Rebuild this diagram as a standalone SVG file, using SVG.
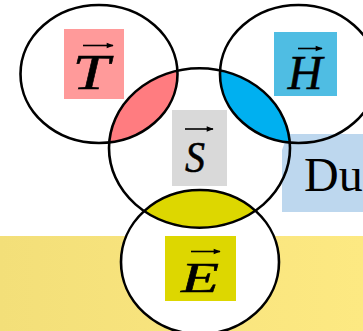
<svg xmlns="http://www.w3.org/2000/svg" width="363" height="331" viewBox="0 0 363 331">
<style>
.ring{fill:none;stroke:#000;stroke-width:2.6}
.lbl{font-family:"Liberation Serif","Times New Roman",serif;font-style:italic;fill:#000;stroke:#000;stroke-width:0.5;text-anchor:middle}
.vec{stroke:#000;stroke-width:1.6;fill:none}
</style>
<defs>
<linearGradient id="band" x1="0" y1="0" x2="1" y2="0">
<stop offset="0" stop-color="#f3df79"/>
<stop offset="1" stop-color="#fde982"/>
</linearGradient>
<marker id="ah" viewBox="0 0 10 10" refX="9" refY="5" markerWidth="5" markerHeight="4.4" orient="auto" markerUnits="strokeWidth">
<path d="M0,1 L10,5 L0,9 Z" fill="#000"/>
</marker>
<clipPath id="clipS"><ellipse cx="199.5" cy="148" rx="90.5" ry="79.7"/></clipPath>
</defs>
<rect x="0" y="236" width="363" height="95" fill="url(#band)"/>
<g id="node-E-circle"><ellipse cx="200" cy="262" rx="79" ry="72" fill="#fff"/></g>
<g id="node-Du">
<polygon points="288,134 363,134 363,212 282,212 282,150" fill="#bdd7ee"/>
<text x="304" y="190.5" font-family="'Liberation Serif','Times New Roman',serif" font-size="48" fill="#000">Du</text>
</g>
<g id="lenses" clip-path="url(#clipS)">
<ellipse cx="99" cy="74" rx="78.5" ry="69" fill="#ff7c80"/>
<ellipse cx="298.5" cy="74" rx="78.5" ry="69" fill="#00b0f0"/>
<ellipse cx="200" cy="262" rx="79" ry="72" fill="#ddd700"/>
</g>
<g id="node-T">
<ellipse class="ring" cx="99" cy="74" rx="78.5" ry="69"/>
<rect x="64" y="29" width="60" height="70" fill="#ff9a9a"/>
<text class="lbl" x="91" y="88.5" font-size="50" textLength="37" lengthAdjust="spacingAndGlyphs">T</text>
<path class="vec" d="M83,45.5 H113" marker-end="url(#ah)"/>
</g>
<g id="node-H">
<ellipse class="ring" cx="298.5" cy="74" rx="78.5" ry="69"/>
<rect x="274" y="32" width="63" height="64" fill="#4fbde3"/>
<text class="lbl" x="305" y="89" font-size="48">H</text>
<path class="vec" d="M298,48.5 H322" marker-end="url(#ah)"/>
</g>
<g id="node-S">
<ellipse class="ring" cx="199.5" cy="148" rx="90.5" ry="79.7"/>
<rect x="172" y="110" width="55" height="76" fill="#d9d9d9"/>
<text class="lbl" x="195" y="172" font-size="44" textLength="20" lengthAdjust="spacingAndGlyphs">S</text>
<path class="vec" d="M185,129 H213" marker-end="url(#ah)"/>
</g>
<g id="node-E">
<ellipse class="ring" cx="200" cy="262" rx="79" ry="72"/>
<rect x="165" y="236" width="71" height="65" fill="#ddd700"/>
<text class="lbl" x="200" y="292" font-size="42" textLength="38" lengthAdjust="spacingAndGlyphs">E</text>
<path class="vec" d="M191,251.5 H220" marker-end="url(#ah)"/>
</g>
<g id="connectors"/>
</svg>
